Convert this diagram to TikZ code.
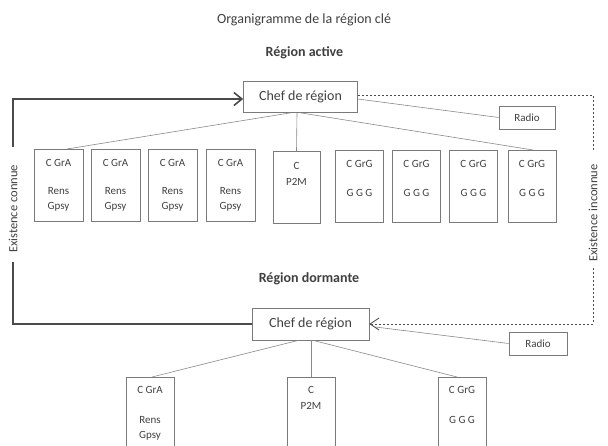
\documentclass[tikz,border=0pt]{standalone}
\usepackage{fontspec}
\setmainfont{Carlito}
\usetikzlibrary{arrows.meta,calc}
\definecolor{boxgray}{HTML}{7A7A7A}
\definecolor{linegray}{HTML}{8A8A8A}
\definecolor{txtgray}{HTML}{404040}
\definecolor{darkline}{HTML}{4A4A4A}
\begin{document}
\begin{tikzpicture}[x=1pt,y=-1pt,
  box/.style={draw=boxgray, line width=0.6pt, minimum width=49pt, minimum height=72pt, inner sep=0pt, anchor=north},
  lowbox/.style={box, minimum width=48pt, minimum height=90pt},
  chefbox/.style={draw=boxgray, line width=0.7pt, minimum width=114pt, minimum height=31pt, inner sep=0pt, text=txtgray, font=\fontsize{14}{16}\selectfont},
  radiobox/.style={draw=boxgray, line width=0.6pt, minimum width=56pt, minimum height=23pt, inner sep=0pt, text=txtgray, font=\fontsize{11}{13}\selectfont},
  btxt/.style={inner sep=0pt, text=txtgray, font=\fontsize{11}{13}\selectfont},
  title/.style={inner sep=0pt, text=txtgray, font=\fontsize{14}{16}\selectfont},
  head/.style={inner sep=0pt, text=txtgray, font=\fontsize{14}{16}\selectfont\bfseries},
  side/.style={inner sep=0pt, text=txtgray, font=\fontsize{12.5}{14}\selectfont, rotate=90},
  tree/.style={draw=linegray, line width=0.6pt},
  known/.style={draw=darkline, line width=1.6pt},
  unknown/.style={draw=darkline, line width=0.8pt, dash pattern=on 2.5pt off 1.5pt},
  barb/.style={-{Straight Barb[length=8pt,width=13pt]}}
]
\useasboundingbox (0,0) rectangle (608,446);
\clip (0,0) rectangle (608,446);
\fill[white] (0,0) rectangle (608,446);

% titles
\node[title] (ttl) at (304,20) {Organigramme de la région clé};
\node[head] (hact) at (304.5,53) {Région active};
\node[head] (hdor) at (309,279) {Région dormante};

% active region
\node[chefbox] (chefA) at (300.5,97) {Chef de région};
\node[radiobox] (radA) at (527,117.5) {Radio};

\foreach \n/\x in {a1/58.5,a2/115.5,a3/172.5,a4/230.5}{
  \node[box] (\n) at (\x,149) {};
  \node[btxt] (\n t1) at ($(\n.north)+(0,14)$) {C GrA};
  \node[btxt] (\n t2) at ($(\n.north)+(0,42)$) {Rens};
  \node[btxt] (\n t3) at ($(\n.north)+(0,58)$) {Gpsy};
}
\node[box, minimum width=47pt] (a5) at (296.5,151) {};
\node[btxt] (a5t1) at ($(a5.north)+(0,15)$) {C};
\node[btxt] (a5t2) at ($(a5.north)+(0,31)$) {P2M};
\foreach \n/\x in {a6/359.5,a7/416.5,a8/473.5,a9/532}{
  \node[box, minimum width=48pt] (\n) at (\x,150) {};
  \node[btxt] (\n t1) at ($(\n.north)+(0,14)$) {C GrG};
  \node[btxt] (\n t2) at ($(\n.north)+(0,43)$) {G G G};
}

\draw[tree] ($(chefA.south)+(-10,0)$) -- ($(a1.north)+(8.5,0)$);
\draw[tree] ($(chefA.south)+(-3.5,0)$) -- (a5.north);
\draw[tree] ($(chefA.south)+(0,0)$) -- ($(a9.north)+(1,0)$);
\draw[tree] ($(chefA.east)+(0,2)$) -- (radA.west);

% dormant region
\node[chefbox, minimum width=117pt, minimum height=32pt] (chefB) at (310.5,324) {Chef de région};
\node[radiobox, minimum width=58pt] (radB) at (538,343.5) {Radio};

\node[lowbox] (b1) at (150,377) {};
\node[btxt] (b1t1) at ($(b1.north)+(0,13)$) {C GrA};
\node[btxt] (b1t2) at ($(b1.north)+(0,43)$) {Rens};
\node[btxt] (b1t3) at ($(b1.north)+(0,59)$) {Gpsy};
\node[lowbox] (b2) at (311,377) {};
\node[btxt] (b2t1) at ($(b2.north)+(0,13)$) {C};
\node[btxt] (b2t2) at ($(b2.north)+(0,29)$) {P2M};
\node[lowbox] (b3) at (462,377) {};
\node[btxt] (b3t1) at ($(b3.north)+(0,13)$) {C GrG};
\node[btxt] (b3t2) at ($(b3.north)+(0,43)$) {G G G};

\draw[tree] ($(chefB.south)+(-12,0)$) -- ($(b1.north)+(2,0)$);
\draw[tree] ($(chefB.south)+(0.5,0)$) -- (b2.north);
\draw[tree] ($(chefB.south)+(2.5,0)$) -- ($(b3.north)+(-5,0)$);
\draw[tree] (radB.west) -- ($(chefB.east)+(6,3)$);

% existence connue (left)
\coordinate (lTop) at (13,147);
\coordinate (lBot) at (13,262);
\node[side] (conn) at (13,209) {Existence connue};
\draw[known, barb] (lTop) |- ($(chefA.west)+(0,2)$);
\draw[known] (chefB.west) -| (lBot);

% existence inconnue (right)
\coordinate (rTop) at (593,150);
\coordinate (rBot) at (593,268);
\node[side] (inconn) at (593,213) {Existence inconnue};
\draw[unknown] ($(chefA.east)+(0,-2)$) -| (rTop);
\draw[unknown, -{Straight Barb[length=9pt,width=12pt]}] (rBot) |- (chefB.east);
\end{tikzpicture}
\end{document}
